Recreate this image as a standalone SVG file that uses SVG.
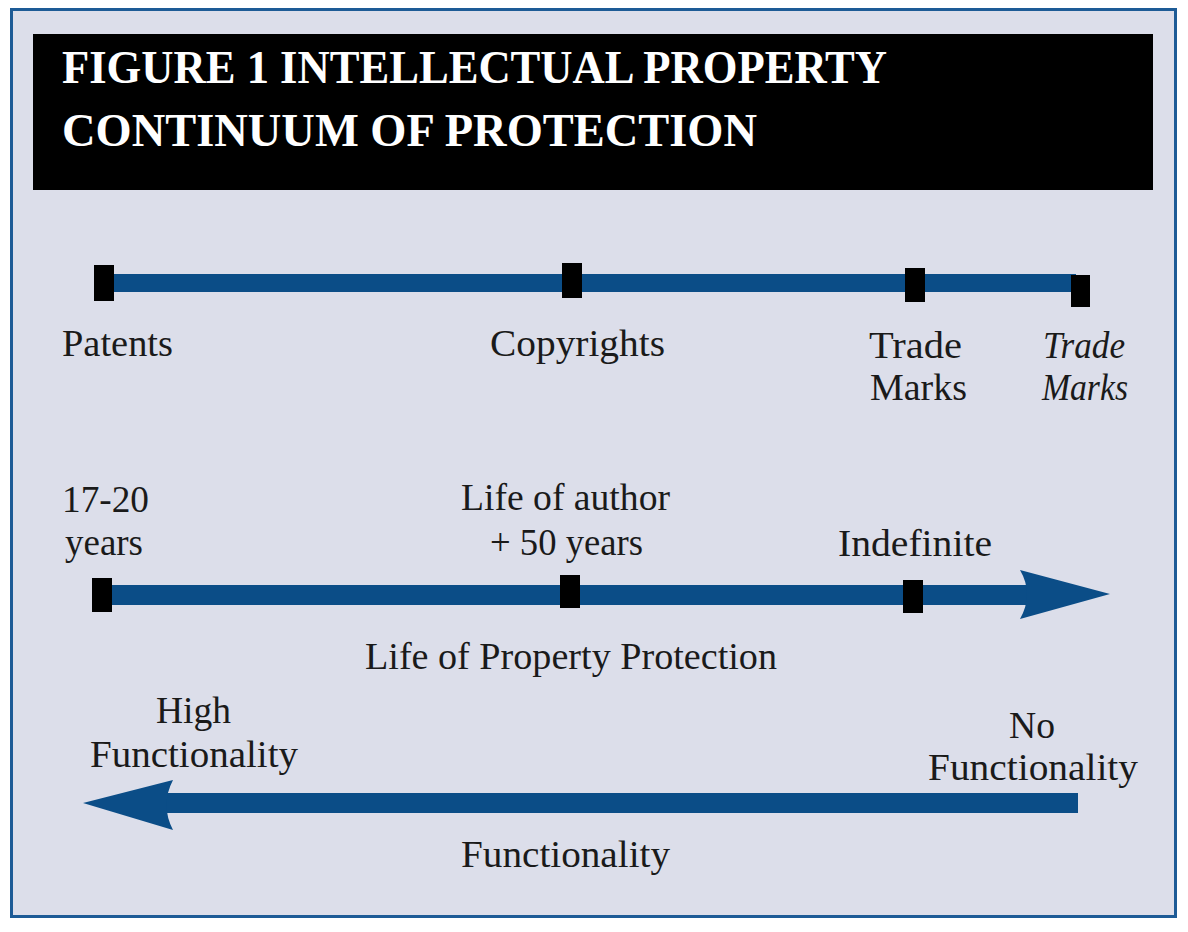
<svg xmlns="http://www.w3.org/2000/svg" width="1188" height="932" viewBox="0 0 1188 932">
<style>
.lbl{font-family:"Liberation Serif","Times New Roman",serif;font-size:38px;fill:#1a1a1a}
.it{font-style:italic}
.ttl{font-family:"Liberation Serif","Times New Roman",serif;font-size:47px;font-weight:bold;fill:#ffffff}
.bar{fill:#0b4d87}
.mk{fill:#000000}
</style>
<rect x="0" y="0" width="1188" height="932" fill="#ffffff"/>
<rect id="frame" x="11.5" y="9.5" width="1164" height="907" fill="#dcdeea" stroke="#1d5b96" stroke-width="3"/>
<g id="title">
<rect x="33" y="34" width="1120" height="156" fill="#000000"/>
<text class="ttl" x="62" y="83" textLength="825" lengthAdjust="spacingAndGlyphs">FIGURE 1 INTELLECTUAL PROPERTY</text>
<text class="ttl" x="62" y="146" textLength="695" lengthAdjust="spacingAndGlyphs">CONTINUUM OF PROTECTION</text>
</g>
<g id="connectors">
<rect class="bar" x="104" y="274" width="972" height="18"/>
<rect class="bar" x="100" y="585" width="930" height="20"/>
<path class="bar" d="M1020,570 L1110,594 L1020,619 Q1034,594 1020,570 Z"/>
<rect class="bar" x="165" y="793" width="913" height="20"/>
<path class="bar" d="M173,780 L83,803 L173,830 Q160,805 173,780 Z"/>
</g>
<g id="patents"><rect class="mk" x="94" y="265" width="20" height="36"/><text class="lbl" x="62" y="356" textLength="111" lengthAdjust="spacingAndGlyphs">Patents</text></g>
<g id="copyrights"><rect class="mk" x="562" y="263" width="20" height="35"/><text class="lbl" x="490" y="356" textLength="175" lengthAdjust="spacingAndGlyphs">Copyrights</text></g>
<g id="trademarks"><rect class="mk" x="905" y="268" width="20" height="34"/><text class="lbl" x="869" y="358" textLength="93" lengthAdjust="spacingAndGlyphs">Trade</text><text class="lbl" x="870" y="400" textLength="97" lengthAdjust="spacingAndGlyphs">Marks</text></g>
<g id="trademarks-italic"><rect class="mk" x="1071" y="275" width="19" height="32"/><text class="lbl it" x="1043" y="358" textLength="82" lengthAdjust="spacingAndGlyphs">Trade</text><text class="lbl it" x="1042" y="400" textLength="86" lengthAdjust="spacingAndGlyphs">Marks</text></g>
<g id="years17-20"><rect class="mk" x="92" y="578" width="20" height="34"/><text class="lbl" x="62" y="512" textLength="87" lengthAdjust="spacingAndGlyphs">17-20</text><text class="lbl" x="65" y="555" textLength="78" lengthAdjust="spacingAndGlyphs">years</text></g>
<g id="life-author"><rect class="mk" x="560" y="575" width="20" height="33"/><text class="lbl" x="461" y="510" textLength="209" lengthAdjust="spacingAndGlyphs">Life of author</text><text class="lbl" x="490" y="555" textLength="153" lengthAdjust="spacingAndGlyphs">+ 50 years</text></g>
<g id="indefinite"><rect class="mk" x="903" y="580" width="20" height="33"/><text class="lbl" x="838" y="556" textLength="154" lengthAdjust="spacingAndGlyphs">Indefinite</text></g>
<g id="life-protection"><text class="lbl" x="365" y="669" textLength="412" lengthAdjust="spacingAndGlyphs">Life of Property Protection</text></g>
<g id="high-func"><text class="lbl" x="156" y="723" textLength="75" lengthAdjust="spacingAndGlyphs">High</text><text class="lbl" x="90" y="767" textLength="208" lengthAdjust="spacingAndGlyphs">Functionality</text></g>
<g id="no-func"><text class="lbl" x="1009" y="738" textLength="46" lengthAdjust="spacingAndGlyphs">No</text><text class="lbl" x="928" y="780" textLength="210" lengthAdjust="spacingAndGlyphs">Functionality</text></g>
<g id="functionality"><text class="lbl" x="461" y="867" textLength="209" lengthAdjust="spacingAndGlyphs">Functionality</text></g>
</svg>
